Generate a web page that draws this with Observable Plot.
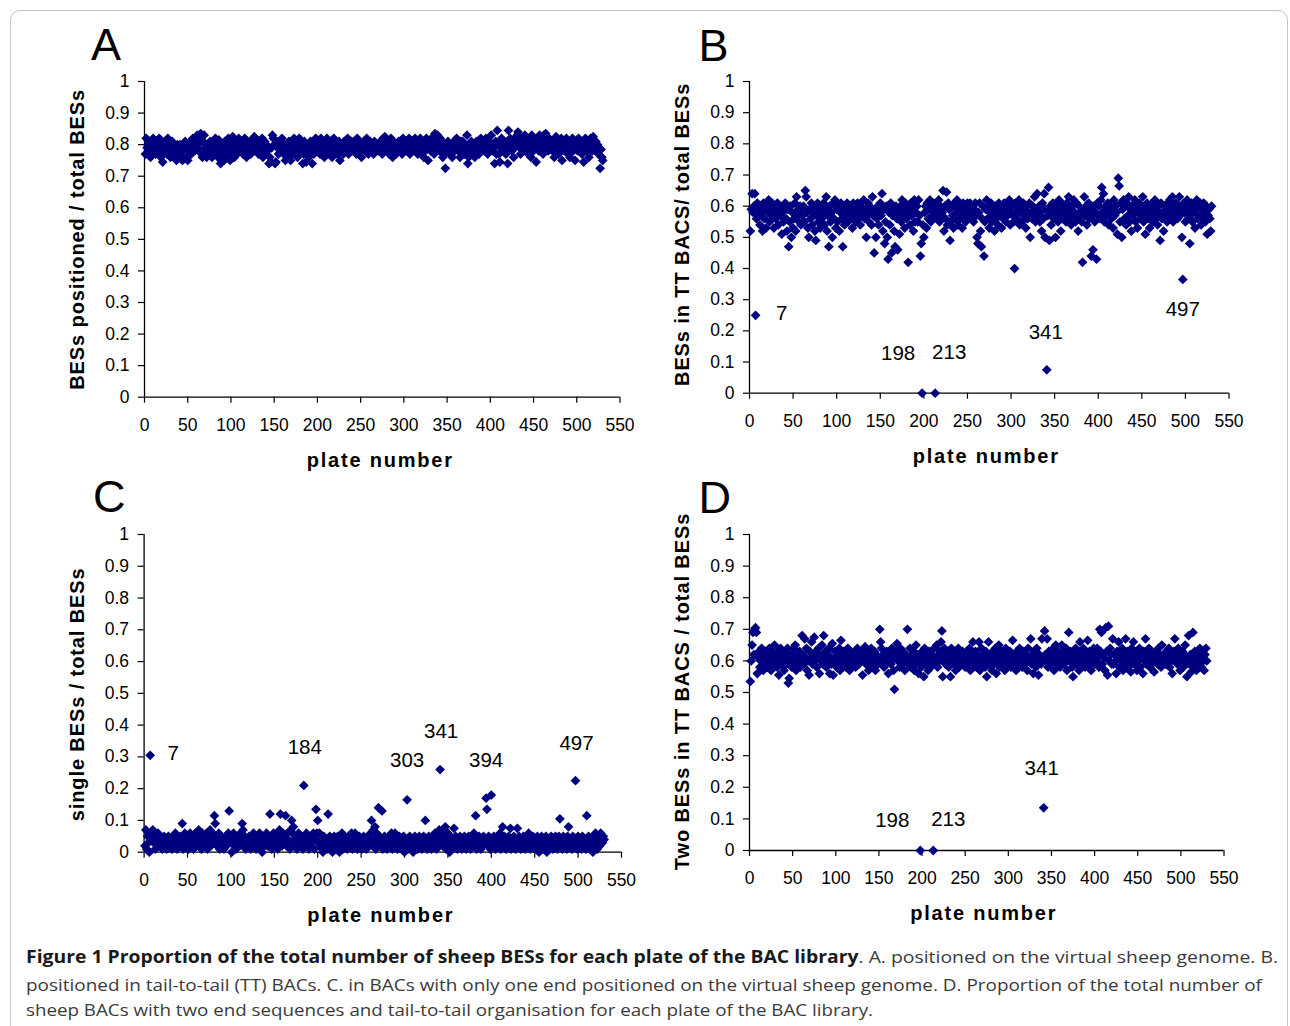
<!DOCTYPE html>
<html><head><meta charset="utf-8">
<script src="https://cdn.jsdelivr.net/npm/d3@7"></script>
<script src="https://cdn.jsdelivr.net/npm/@observablehq/plot@0.6"></script>
<style>
html,body{margin:0;padding:0;background:#fff}
body{width:1290px;height:1026px;overflow:hidden;position:relative;font-family:"Liberation Sans",Arial,sans-serif}
#frame{position:absolute;left:10px;top:10px;width:1278px;height:1040px;border:1px solid #c4c4c4;border-radius:10px;box-sizing:border-box;z-index:2;pointer-events:none}
.panel{position:absolute;overflow:visible}
.cap{position:absolute;left:26px;white-space:nowrap;font-family:"Open Sans","Noto Sans",sans-serif;font-size:17px;line-height:20px;height:20px;color:#3a3a3a;transform-origin:0 50%}
.cap b{color:#1a1a1a;font-weight:700}
</style></head>
<body>
<div id="panels"></div>
<div id="frame"></div>
<div class="cap" id="cap1" style="top:947px"><span><b>Figure 1 Proportion of the total number of sheep BESs for each plate of the BAC library</b>. A. positioned on the virtual sheep genome. B.</span></div>
<div class="cap" id="cap2" style="top:975px"><span>positioned in tail-to-tail (TT) BACs. C. in BACs with only one end positioned on the virtual sheep genome. D. Proportion of the total number of</span></div>
<div class="cap" id="cap3" style="top:1000px"><span>sheep BACs with two end sequences and tail-to-tail organisation for each plate of the BAC library.</span></div>
<script>
// ---- tick definitions ----
const xTicks = [0,50,100,150,200,250,300,350,400,450,500,550];
const xTickLabels = ["0","50","100","150","200","250","300","350","400","450","500","550"];
const yTicks = [0,0.1,0.2,0.3,0.4,0.5,0.6,0.7,0.8,0.9,1];
const yTickLabels = ["0","0.1","0.2","0.3","0.4","0.5","0.6","0.7","0.8","0.9","1"];
const xLabel = "plate number";

// ---- A: BESs positioned / total BESs (plates 1..530) ----
const positionedA = [
.77,.82,.79,.80,.78,.81,.76,.80,.79,.82,
.78,.80,.77,.81,.79,.78,.82,.80,.76,.79,
.745,.78,.80,.81,.79,.77,.82,.80,.78,.76,
.79,.81,.78,.80,.77,.79,.75,.80,.78,.76,
.80,.77,.79,.75,.78,.80,.81,.79,.76,.75,
.78,.80,.81,.77,.79,.82,.80,.78,.81,.79,
.83,.80,.78,.82,.835,.77,.76,.81,.83,.79,
.78,.76,.80,.79,.77,.81,.78,.76,.80,.79,
.77,.82,.78,.80,.76,.815,.79,.74,.77,.78,
.80,.75,.81,.78,.76,.79,.82,.77,.75,.80,
.78,.825,.79,.76,.81,.80,.77,.79,.82,.78,
.80,.81,.79,.77,.80,.82,.78,.76,.81,.79,
.78,.80,.77,.81,.79,.82,.825,.78,.80,.79,
.81,.77,.79,.80,.78,.82,.76,.79,.81,.77,
.80,.78,.79,.74,.76,.745,.79,.83,.82,.80,
.74,.745,.81,.79,.77,.80,.78,.81,.82,.79,
.77,.80,.75,.78,.79,.76,.81,.78,.75,.80,
.77,.79,.82,.80,.81,.78,.76,.80,.82,.79,
.78,.80,.74,.77,.81,.79,.745,.80,.78,.76,
.79,.81,.78,.74,.80,.77,.79,.82,.81,.78,
.80,.79,.77,.82,.81,.80,.78,.76,.81,.79,
.82,.78,.80,.77,.81,.79,.76,.80,.82,.79,
.78,.80,.77,.79,.81,.75,.78,.80,.79,.77,
.81,.79,.78,.80,.82,.77,.79,.80,.81,.78,
.79,.81,.78,.80,.77,.82,.79,.81,.80,.78,
.76,.80,.79,.81,.78,.80,.82,.79,.77,.80,
.81,.78,.80,.79,.77,.81,.80,.78,.79,.80,
.78,.79,.81,.80,.77,.82,.79,.825,.80,.78,
.81,.79,.77,.80,.82,.78,.76,.81,.79,.80,
.77,.80,.79,.81,.78,.80,.79,.77,.82,.80,
.79,.81,.78,.80,.79,.82,.77,.80,.81,.79,
.80,.78,.82,.79,.81,.77,.80,.79,.82,.78,
.81,.79,.76,.80,.78,.82,.79,.75,.80,.81,
.78,.82,.79,.80,.77,.835,.81,.79,.83,.80,
.78,.82,.79,.81,.76,.77,.79,.725,.80,.78,
.81,.79,.77,.80,.78,.76,.79,.81,.78,.80,
.82,.79,.78,.80,.76,.81,.79,.81,.78,.77,
.80,.79,.83,.74,.76,.78,.80,.81,.77,.79,
.80,.76,.79,.81,.78,.80,.77,.79,.82,.80,
.79,.81,.78,.80,.82,.79,.77,.80,.81,.79,
.83,.80,.78,.79,.74,.81,.77,.845,.80,.77,
.745,.79,.82,.80,.78,.81,.79,.77,.80,.74,
.845,.79,.82,.80,.78,.81,.76,.79,.82,.80,
.83,.84,.81,.79,.77,.82,.80,.78,.81,.83,
.79,.82,.80,.77,.81,.79,.76,.83,.80,.78,
.82,.80,.745,.79,.81,.78,.83,.80,.82,.79,
.77,.83,.80,.835,.79,.81,.78,.82,.80,.79,
.81,.78,.80,.76,.79,.825,.81,.78,.77,.80,
.79,.82,.75,.80,.81,.78,.79,.82,.80,.77,
.80,.76,.81,.79,.82,.78,.80,.75,.79,.81,
.78,.82,.80,.79,.81,.77,.80,.745,.79,.82,
.80,.78,.81,.76,.79,.82,.80,.78,.825,.80,
.79,.81,.78,.80,.77,.79,.725,.785,.76,.75];

// ---- B: BESs in TT BACs / total BESs ----
const ttB = [
.52,.59,.64,.58,.60,.64,.25,.56,.61,.57,
.59,.54,.60,.58,.52,.61,.56,.59,.53,.60,
.58,.62,.55,.60,.57,.61,.59,.53,.60,.56,
.58,.61,.54,.60,.57,.59,.51,.58,.55,.60,
.61,.56,.52,.59,.47,.55,.60,.50,.58,.53,
.56,.61,.52,.63,.57,.59,.55,.60,.54,.58,
.57,.60,.55,.65,.63,.58,.53,.50,.59,.56,
.61,.54,.58,.60,.52,.49,.57,.61,.55,.59,
.53,.60,.56,.58,.61,.54,.59,.63,.52,.57,
.47,.60,.55,.58,.50,.61,.56,.62,.53,.59,
.55,.60,.52,.58,.61,.56,.47,.59,.54,.60,
.57,.61,.55,.58,.60,.56,.59,.53,.61,.57,
.60,.55,.58,.61,.56,.59,.54,.60,.57,.58,
.62,.56,.59,.50,.57,.61,.55,.60,.58,.54,
.63,.57,.45,.59,.50,.56,.60,.54,.58,.61,
.57,.64,.52,.59,.48,.55,.60,.50,.43,.58,
.54,.61,.45,.57,.59,.52,.47,.60,.56,.46,
.58,.51,.60,.55,.62,.57,.59,.53,.61,.56,
.58,.42,.60,.54,.61,.57,.59,.52,.62,.55,
.58,.60,.55,.62,.57,.44,.48,0,.54,.50,
.58,.60,.53,.61,.56,.59,.62,.55,.60,.57,
.61,.58,0,.60,.56,.59,.62,.55,.60,.57,
.58,.65,.52,.60,.56,.645,.54,.61,.59,.49,
.55,.60,.57,.53,.61,.56,.59,.62,.54,.58,
.60,.56,.59,.53,.61,.57,.60,.55,.58,.61,
.57,.59,.61,.56,.58,.60,.55,.59,.61,.57,
.50,.48,.58,.61,.52,.47,.56,.60,.44,.55,
.59,.62,.56,.60,.53,.58,.61,.55,.59,.57,
.52,.60,.56,.58,.54,.61,.57,.59,.53,.60,
.56,.61,.58,.55,.60,.57,.59,.62,.54,.58,
.60,.57,.55,.40,.61,.58,.56,.59,.62,.54,
.58,.60,.55,.61,.57,.59,.53,.60,.56,.58,
.61,.50,.58,.56,.60,.57,.63,.55,.59,.64,
.57,.60,.55,.58,.52,.61,.56,.64,.50,.59,
.075,.57,.66,.49,.60,.54,.58,.61,.56,.59,
.50,.57,.60,.55,.62,.58,.52,.61,.56,.59,
.60,.57,.55,.61,.58,.63,.56,.59,.54,.60,
.57,.62,.58,.55,.61,.56,.52,.60,.58,.57,
.55,.42,.59,.63,.57,.60,.54,.58,.61,.56,
.59,.44,.57,.46,.60,.55,.58,.43,.61,.57,
.60,.56,.62,.66,.58,.64,.55,.60,.57,.59,
.61,.54,.58,.60,.56,.59,.53,.62,.57,.60,
.58,.51,.69,.665,.55,.61,.50,.59,.62,.56,
.60,.54,.61,.57,.63,.55,.59,.52,.60,.57,
.59,.62,.55,.60,.53,.58,.61,.56,.59,.57,
.63,.55,.60,.51,.58,.61,.56,.59,.53,.60,
.57,.61,.55,.58,.62,.56,.59,.54,.60,.57,
.49,.61,.56,.58,.52,.60,.57,.59,.55,.61,
.58,.62,.56,.59,.63,.55,.60,.57,.61,.58,
.56,.60,.63,.57,.59,.50,.365,.61,.58,.55,
.60,.62,.56,.59,.48,.57,.61,.55,.58,.60,
.53,.59,.62,.56,.60,.57,.61,.54,.59,.56,
.61,.58,.55,.60,.51,.57,.59,.56,.52,.60];

// ---- C: single BESs / total BESs ----
const singleC = [
.02,.07,.01,.05,.03,.00,.305,.06,.04,.07,
.03,.05,.01,.04,.02,.06,.03,.05,.02,.04,
.01,.03,.05,.02,.04,.01,.03,.05,.02,.04,
.03,.01,.05,.02,.04,.06,.03,.01,.05,.04,
.02,.05,.03,.09,.01,.04,.06,.02,.03,.05,
.01,.04,.06,.02,.05,.03,.01,.04,.06,.02,
.05,.03,.07,.02,.04,.01,.06,.03,.05,.02,
.04,.06,.01,.03,.05,.07,.02,.04,.06,.03,
.115,.09,.05,.02,.04,.06,.01,.03,.05,.02,
.04,.01,.03,.05,.02,.04,.06,.13,.03,.05,
.00,.04,.06,.02,.03,.01,.05,.03,.04,.02,
.06,.04,.09,.07,.02,.05,.01,.03,.04,.02,
.05,.03,.01,.04,.02,.06,.03,.05,.01,.04,
.02,.04,.06,.03,.01,.00,.05,.02,.04,.03,
.06,.02,.05,.04,.12,.03,.01,.05,.06,.02,
.04,.03,.06,.01,.05,.07,.12,.04,.02,.06,
.03,.05,.115,.02,.06,.04,.03,.01,.07,.10,
.06,.08,.04,.02,.05,.01,.03,.06,.04,.02,
.05,.03,.01,.21,.04,.02,.06,.03,.05,.01,
.04,.02,.05,.03,.06,.01,.04,.135,.06,.10,
.03,.06,.02,.04,.01,.00,.05,.03,.02,.04,
.01,.12,.03,.05,.02,.04,.00,.03,.05,.02,
.04,.01,.05,.03,.00,.02,.04,.06,.01,.03,
.05,.02,.04,.01,.03,.05,.02,.04,.06,.01,
.03,.05,.06,.02,.04,.01,.03,.05,.02,.04,
.01,.03,.05,.02,.04,.01,.03,.05,.02,.04,
.06,.10,.02,.07,.04,.08,.01,.06,.03,.14,
.05,.02,.04,.13,.01,.03,.05,.02,.04,.01,
.03,.05,.02,.04,.06,.01,.03,.05,.06,.02,
.04,.01,.03,.05,.02,.04,.01,.03,.05,.00,
.02,.04,.165,.01,.03,.05,.02,.04,.01,.00,
.03,.05,.02,.04,.01,.03,.05,.02,.04,.01,
.03,.05,.02,.10,.04,.01,.03,.05,.02,.04,
.01,.03,.05,.02,.06,.04,.01,.03,.05,.07,
.26,.04,.06,.02,.05,.03,.08,.01,.04,.06,
.02,.00,.05,.03,.01,.04,.075,.02,.05,.03,
.01,.04,.02,.05,.03,.01,.04,.02,.05,.03,
.01,.04,.02,.05,.03,.01,.05,.02,.04,.06,
.03,.115,.01,.04,.02,.05,.03,.01,.04,.02,
.05,.03,.04,.17,.135,.02,.05,.03,.01,.18,
.04,.02,.05,.03,.01,.04,.02,.05,.03,.06,
.01,.04,.08,.02,.05,.03,.01,.04,.02,.05,
.03,.075,.01,.04,.02,.05,.03,.01,.04,.075,
.02,.05,.03,.01,.04,.02,.05,.03,.01,.04,
.02,.05,.06,.03,.01,.04,.02,.05,.03,.01,
.04,.02,.05,.03,.00,.04,.02,.05,.03,.01,
.04,.02,.05,.00,.03,.01,.04,.02,.05,.03,
.01,.04,.02,.05,.03,.01,.04,.05,.105,.02,
.04,.01,.05,.03,.02,.04,.01,.05,.08,.03,
.02,.04,.01,.05,.03,.02,.225,.04,.01,.05,
.03,.02,.04,.01,.05,.03,.02,.04,.01,.115,
.03,.05,.02,.04,.01,.03,.00,.05,.02,.06,
.04,.01,.03,.05,.02,.06,.04,.03,.05,.04];

// ---- D: Two BESs in TT BACs / total BESs ----
const twoD = [
.535,.60,.65,.69,.62,.70,.705,.69,.56,.61,
.63,.58,.60,.64,.62,.57,.61,.59,.63,.60,
.58,.62,.64,.60,.57,.63,.61,.59,.65,.62,
.60,.58,.63,.555,.61,.64,.59,.62,.60,.57,
.63,.61,.59,.64,.53,.545,.60,.62,.58,.61,
.64,.60,.65,.57,.62,.59,.61,.63,.58,.60,
.68,.62,.59,.67,.61,.64,.57,.60,.555,.63,
.61,.66,.59,.62,.675,.60,.63,.58,.61,.64,
.56,.62,.60,.65,.59,.68,.61,.63,.58,.60,
.62,.64,.56,.61,.59,.655,.555,.60,.63,.61,
.58,.62,.60,.64,.57,.665,.61,.59,.63,.60,
.62,.58,.61,.64,.60,.57,.63,.59,.62,.60,
.61,.63,.58,.60,.64,.62,.59,.61,.63,.60,
.555,.62,.60,.645,.59,.61,.63,.57,.60,.62,
.64,.58,.61,.60,.63,.57,.62,.60,.59,.61,
.70,.66,.64,.60,.62,.58,.61,.59,.63,.60,
.56,.62,.60,.59,.64,.62,.57,.51,.61,.63,
.655,.60,.62,.58,.64,.61,.59,.63,.60,.57,
.62,.60,.70,.59,.61,.64,.58,.62,.60,.63,
.57,.61,.65,.59,.62,.56,.60,0,.58,.63,
.61,.55,.64,.59,.62,.60,.57,.63,.61,.58,
.62,.60,0,.64,.59,.61,.65,.58,.62,.60,
.63,.66,.695,.55,.61,.64,.59,.62,.60,.63,
.58,.61,.55,.64,.60,.62,.59,.63,.57,.61,
.60,.64,.58,.62,.61,.59,.63,.60,.62,.58,
.61,.63,.59,.60,.64,.57,.62,.60,.66,.59,
.61,.63,.58,.62,.60,.66,.57,.61,.64,.59,
.62,.60,.58,.63,.55,.61,.66,.59,.62,.60,
.57,.63,.61,.59,.64,.56,.62,.60,.65,.58,
.61,.63,.59,.62,.60,.57,.64,.61,.59,.62,
.60,.63,.58,.61,.665,.59,.62,.60,.57,.63,
.61,.59,.64,.60,.62,.58,.61,.63,.59,.60,
.62,.57,.64,.60,.61,.67,.59,.62,.56,.63,
.60,.58,.64,.61,.555,.62,.60,.59,.67,.61,
.135,.695,.62,.60,.67,.58,.63,.61,.59,.62,
.60,.64,.57,.62,.65,.59,.61,.63,.60,.58,
.62,.65,.60,.63,.59,.61,.64,.57,.62,.69,
.60,.63,.61,.58,.55,.62,.60,.64,.59,.61,
.63,.57,.66,.60,.62,.59,.64,.61,.58,.62,
.60,.665,.59,.63,.61,.57,.62,.60,.64,.59,
.62,.60,.64,.61,.58,.70,.63,.69,.59,.62,
.61,.57,.705,.63,.555,.71,.60,.64,.62,.59,
.67,.59,.62,.60,.56,.63,.61,.66,.58,.62,
.60,.64,.57,.62,.59,.67,.61,.63,.58,.60,
.62,.565,.64,.60,.66,.59,.61,.63,.57,.62,
.60,.64,.58,.62,.61,.56,.63,.60,.67,.59,
.62,.60,.64,.58,.61,.63,.59,.62,.565,.60,
.63,.61,.59,.64,.60,.62,.58,.65,.61,.60,
.62,.59,.63,.61,.60,.64,.58,.62,.60,.56,
.61,.63,.67,.60,.62,.59,.64,.61,.57,.62,
.60,.63,.58,.62,.65,.60,.55,.61,.68,.59,
.62,.565,.60,.69,.58,.63,.61,.57,.60,.62,
.59,.64,.61,.58,.63,.60,.57,.62,.64,.60];

// ---- labelled plates per panel ----
const labelsB = [7,198,213,341,497];
const labelsC = [7,184,303,341,394,497];
const labelsD = [198,213,341];

const navy = "#000080";
const FONT = '"Liberation Sans", Arial, sans-serif';

const panels = [
  {letter:"A", values:positionedA, ylabel:"BESs positioned / total BESs", left:10, top:12,
   ml:134, mr:20.5, mt:69, mb:70.3, letterOff:[-53.5,-53], ylabOff:[-67.3,0], xlabOff:[-2,63],
   labels:[], offsets:{}},
  {letter:"B", values:ttB, ylabel:"BESs in TT BACS/ total BESs", left:640, top:12,
   ml:109, mr:41.5, mt:69, mb:74.3, letterOff:[-51,-52], ylabOff:[-67,-3], xlabOff:[-3,63],
   labels:labelsB, offsets:{7:[26,-2],198:[-24,-40],213:[14,-41],341:[-1,-37],497:[0,30]}},
  {letter:"C", values:singleC, ylabel:"single BESs / total BESs", left:10, top:467,
   ml:133.6, mr:19, mt:67, mb:70.3, letterOff:[-51,-54], ylabOff:[-66.6,1], xlabOff:[-2,63],
   labels:labelsC, offsets:{7:[23,-2],184:[1,-38],303:[0,-39],341:[1,-38],394:[0,-38],497:[1,-37]}},
  {letter:"D", values:twoD, ylabel:"Two BESs in TT BACS / total BESs", left:640, top:467,
   ml:109, mr:46.5, mt:67, mb:72, letterOff:[-51,-53], ylabOff:[-67,-1], xlabOff:[-3,63],
   labels:labelsD, offsets:{198:[-28,-30],213:[15,-31],341:[-2,-39]}}
];

const holder = document.getElementById("panels");
for (const p of panels) {
  const rows = p.values.map((v, i) => ({plate: i + 1, v}));
  const annots = p.labels.map(pl => {
    const [dx, dy] = p.offsets[pl];
    return Plot.text([{plate: pl, v: p.values[pl - 1], t: String(pl)}],
      {x: "plate", y: "v", text: "t", dx, dy, fontSize: 20.5, fill: "#000"});
  });
  const chart = Plot.plot({
    width: 630, height: 455,
    marginLeft: p.ml, marginRight: p.mr, marginTop: p.mt, marginBottom: p.mb,
    style: {fontFamily: FONT, fontSize: "17.5px", color: "#000", background: "transparent", overflow: "visible"},
    x: {domain: [0, 550]},
    y: {domain: [0, 1]},
    marks: [
      Plot.axisX({ticks: xTicks, tickFormat: d => xTickLabels[xTicks.indexOf(d)], tickSize: 6, tickPadding: 15, label: null, strokeWidth: 1.2}),
      Plot.axisY({ticks: yTicks, tickFormat: d => yTickLabels[yTicks.indexOf(d)], tickSize: 6, tickPadding: 9, label: null, strokeWidth: 1.2}),
      Plot.ruleY([0], {x1: 0, x2: 550, stroke: "#000", strokeWidth: 1.3}),
      Plot.ruleX([0], {y1: 0, y2: 1, stroke: "#000", strokeWidth: 1.3}),
      Plot.dot(rows, {x: "plate", y: "v", symbol: "diamond2", r: 4.4, fill: navy, stroke: "none"}),
      Plot.text([p.letter], {text: d => d, frameAnchor: "top-left", textAnchor: "start", lineAnchor: "top",
        dx: p.letterOff[0], dy: p.letterOff[1], fontSize: 45, fill: "#000"}),
      Plot.text([p.ylabel], {text: d => d, frameAnchor: "left", textAnchor: "middle", lineAnchor: "middle", rotate: -90,
        dx: p.ylabOff[0], dy: p.ylabOff[1], fontSize: 20, fontWeight: "bold", fill: "#000"}),
      Plot.text([xLabel], {text: d => d, frameAnchor: "bottom", textAnchor: "middle", lineAnchor: "middle",
        dx: p.xlabOff[0], dy: p.xlabOff[1], fontSize: 20, fontWeight: "bold", fill: "#000"}),
      ...annots
    ]
  });
  chart.classList.add("panel");
  chart.style.left = p.left + "px";
  chart.style.top = p.top + "px";
  chart.querySelectorAll("text").forEach(t => {
    if (t.textContent === p.ylabel) t.style.letterSpacing = "0.9px";
    if (t.textContent === xLabel) t.style.letterSpacing = "1.8px";
  });
  holder.appendChild(chart);
}

// fit caption lines to their measured widths in the reference
const capTargets = {cap1: 1252, cap2: 1236, cap3: 847};
for (const id in capTargets) {
  const el = document.getElementById(id);
  const w = el.querySelector("span").getBoundingClientRect().width;
  el.style.transform = `scaleX(${capTargets[id] / w})`;
}
</script>
</body></html>
